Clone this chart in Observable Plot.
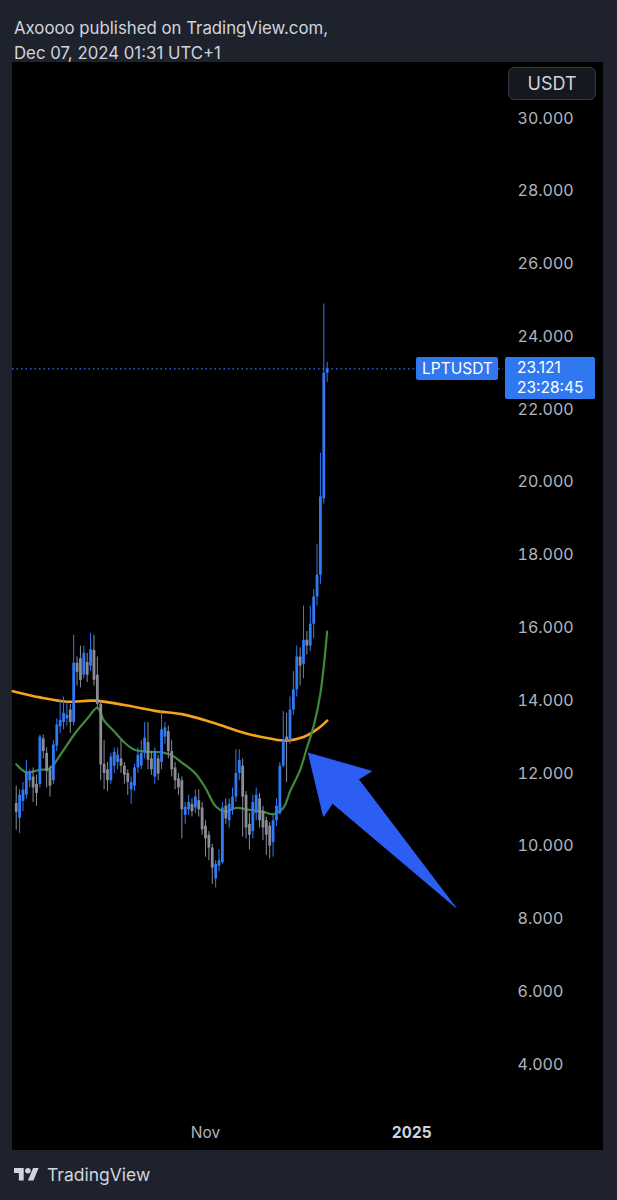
<!DOCTYPE html>
<html>
<head>
<meta charset="utf-8">
<script src="https://cdn.jsdelivr.net/npm/d3@7"></script>
<script src="https://cdn.jsdelivr.net/npm/@observablehq/plot@0.6"></script>
<style>
  html, body { margin: 0; padding: 0; background: #1e222d; }
  body { width: 617px; height: 1200px; position: relative; overflow: hidden; font-family: Inter, Roboto, sans-serif; }
  .hdr { position: absolute; left: 14px; top: 16px; color: #d1d4dc; font-size: 16.8px; line-height: 25px; }
  #chart { position: absolute; left: 12px; top: 62px; }
  .usdt { position: absolute; left: 508px; top: 67px; width: 88px; height: 33px; box-sizing: border-box;
          border: 1px solid #363a45; border-radius: 6px; background: #15181f; color: #d1d4dc;
          font-size: 18px; line-height: 31px; text-align: center; }
  .lbl { position: absolute; background: #2f78ef; color: #fff; font-size: 15.5px; box-sizing: border-box; border-radius: 2px; }
  .footer { position: absolute; left: 14px; top: 1164px; color: #d1d4dc; font-size: 17.5px; display: flex; align-items: center; }
  .footer svg { margin-right: 8px; }
</style>
</head>
<body>
<div class="hdr">Axoooo published on TradingView.com,<br>Dec 07, 2024 01:31 UTC+1</div>
<div id="chart"></div>
<div class="usdt">USDT</div>
<div class="footer"><svg width="25" height="20" viewBox="0 0 36 28"><path fill="#d1d4dc" d="M14 22H7V11H0V4h14v18zM28 22h-8l7.5-18h8L28 22z"/><circle fill="#d1d4dc" cx="20" cy="8" r="4"/></svg>TradingView</div>
<script>
// ---- Daily candles LPTUSDT, Sep 6 – Dec 7 2024 ----
const firstDay = "2024-09-06";
const lastDayExclusive = "2024-12-08";
const opens = [
 11.17,10.77,11.23,11.40,11.80,11.90,11.70,11.70,12.95,
 12.55,12.10,11.80,12.75,13.28,13.40,13.50,13.74,
 13.40,15.03,15.15,14.70,15.05,14.95,15.38,14.70,
 13.90,12.25,12.10,11.80,12.20,12.30,12.40,12.20,12.00,11.55,11.65,12.15,12.20,12.55,12.85,12.40,11.90,12.40,12.30,13.00,13.15,12.60,12.15,11.85,11.80,10.85,11.00,11.15,11.05,
 11.25,11.05,10.55,10.30,9.95,
 9.10,9.45,9.55,11.10,10.70,11.00,11.35,12.00,12.20,11.40,10.60,10.40,10.90,11.30,10.95,10.70,10.55,10.10,10.70,10.90,12.20,13.00,12.90,13.74,14.30,15.20,15.00,15.66,15.50,16.10,16.85,17.45,19.55,23.00
];
const highs = [
 11.65,11.55,11.75,12.36,12.10,12.15,11.95,13.05,13.05,
 12.70,12.20,12.90,13.50,14.00,14.10,13.95,13.90,
 15.80,15.20,15.50,15.50,15.30,15.85,15.80,15.20,
 14.00,12.90,12.30,12.55,12.70,12.70,12.90,12.30,12.10,11.90,12.25,12.70,12.90,13.40,13.40,12.60,12.70,12.50,13.70,13.40,13.30,12.90,12.30,12.00,11.90,11.20,11.40,11.30,11.55,
 11.55,11.20,10.70,10.40,10.05,
 9.60,9.90,11.20,11.30,11.30,11.60,12.65,12.65,12.40,11.50,10.90,11.40,11.60,11.45,11.10,10.80,10.65,10.85,11.30,12.30,13.70,13.65,14.10,14.80,15.50,15.45,16.60,15.90,16.60,17.05,18.30,20.80,24.90,23.30
];
const lows = [
 10.44,10.35,10.95,11.30,11.60,11.20,11.10,11.60,12.40,
 11.60,11.35,11.70,12.60,13.10,13.20,13.30,13.10,
 13.30,14.40,14.35,14.60,14.50,14.80,14.40,13.80,
 11.80,11.55,11.50,11.70,12.00,12.10,12.00,11.70,11.40,11.15,11.50,12.00,12.10,12.40,12.10,11.95,11.70,11.80,12.10,12.80,12.40,11.90,11.55,11.40,10.20,10.60,10.85,10.80,10.90,
 10.80,10.30,9.70,9.60,8.95,
 8.85,9.30,9.50,10.60,10.50,10.85,11.20,11.80,10.25,10.20,9.90,10.20,10.70,10.50,10.15,9.75,9.65,9.70,10.55,10.85,12.15,11.75,12.80,13.60,14.10,14.40,14.60,15.25,15.35,15.70,16.60,17.20,19.40,22.75
];
const closes = [
 10.93,11.40,11.54,12.03,12.05,11.60,11.45,13.00,12.60,
 12.05,11.65,12.78,13.33,13.46,13.65,13.60,13.40,
 15.03,14.78,14.56,15.30,14.70,15.40,14.56,13.90,
 12.23,12.00,11.80,12.45,12.58,12.50,12.20,11.95,11.75,11.75,12.15,12.50,12.55,12.97,12.36,12.10,12.60,11.98,13.20,13.25,12.60,12.10,11.80,11.60,11.00,11.07,11.20,10.95,11.35,
 11.00,10.45,10.20,9.95,9.40,
 9.50,9.60,11.05,10.75,11.15,11.35,12.00,12.36,11.35,10.50,10.30,11.20,11.40,10.70,10.50,10.30,10.00,10.70,11.10,12.20,12.90,12.85,13.74,14.30,15.20,14.95,15.66,15.50,16.10,16.85,17.45,19.60,23.00,23.121
];

// ---- Moving averages ----
const slowMaDates  = ["2024-09-05","2024-09-13","2024-09-21","2024-09-29","2024-10-08","2024-10-17","2024-10-25","2024-11-03","2024-11-13","2024-11-20","2024-11-25","2024-11-30","2024-12-03","2024-12-05","2024-12-07"];
const slowMaValues = [14.26,14.09,13.97,14.00,13.88,13.72,13.63,13.40,13.10,12.96,12.90,13.00,13.15,13.28,13.45];
const fastMaDates  = ["2024-09-06","2024-09-09","2024-09-13","2024-09-16","2024-09-19","2024-09-23","2024-09-27","2024-09-30","2024-10-02","2024-10-05","2024-10-08","2024-10-11","2024-10-15","2024-10-19","2024-10-22","2024-10-25","2024-10-29","2024-11-01","2024-11-04","2024-11-07","2024-11-10","2024-11-14","2024-11-18","2024-11-21","2024-11-24","2024-11-26","2024-11-29","2024-12-01","2024-12-03","2024-12-05","2024-12-07"];
const fastMaValues = [12.25,12.03,12.10,12.14,12.50,13.05,13.50,13.80,13.45,13.15,12.85,12.65,12.60,12.58,12.50,12.30,12.00,11.60,11.10,10.95,11.05,11.00,10.95,10.88,11.05,11.50,12.10,12.70,13.30,14.20,15.90];

// ---- Axis ticks ----
const yTicks = [4,6,8,10,12,14,16,18,20,22,24,26,28,30];
const xTickDates = ["2024-11-01","2025-01-01"];
const xTickLabels = ["Nov","2025"];

// ---- Annotation arrow (date, price) ----
const arrowDates  = ["2024-12-01T11:00Z","2024-12-20T02:00Z","2024-12-16T06:00Z","2025-01-14T00:00Z","2024-12-08T14:00Z","2024-12-05T22:00Z","2024-12-01T11:00Z"];
const arrowPrices = [12.555,12.06,11.84,8.32,11.18,10.82,12.555];

const symbol = "LPTUSDT";
const countdown = "23:28:45";

const dates = d3.utcDay.range(new Date(firstDay), new Date(lastDayExclusive));
const candles = dates.map((d, i) => ({date: d, open: opens[i], high: highs[i], low: lows[i], close: closes[i]}));
const slowMa = slowMaDates.map((d, i) => ({date: new Date(d), v: slowMaValues[i]}));
const fastMa = fastMaDates.map((d, i) => ({date: new Date(d), v: fastMaValues[i]}));
const arrow = arrowDates.map((d, i) => ({date: new Date(d), v: arrowPrices[i]}));
const lastClose = closes[closes.length - 1];

const UP = "#3179f5", DOWN = "#8a8d96";
const col = d => d.close >= d.open ? UP : DOWN;

const chart = Plot.plot({
  width: 591, height: 1088,
  marginLeft: 0, marginRight: 100, marginTop: 56, marginBottom: 86,
  style: {background: "#000", color: "#b2b5be", fontFamily: "Inter, Roboto, sans-serif", overflow: "visible"},
  x: {type: "utc", domain: [new Date("2024-09-04T21:36Z"), new Date("2025-01-28T04:00Z")], axis: null},
  y: {domain: [4, 30], axis: null},
  marks: [
    Plot.ruleY([lastClose], {stroke: UP, strokeWidth: 1.2, strokeDasharray: "1.5,3"}),
    Plot.line(slowMa, {x: "date", y: "v", stroke: "#f5a21f", strokeWidth: 2.6, curve: "catmull-rom"}),
    Plot.line(fastMa, {x: "date", y: "v", stroke: "#3f8a3f", strokeWidth: 2.2, curve: "catmull-rom"}),
    Plot.ruleX(candles, {x: "date", y1: "low", y2: "high", stroke: col, strokeWidth: 1}),
    Plot.ruleX(candles, {x: "date", y1: "open", y2: "close", stroke: col, strokeWidth: 2.8}),
    Plot.line(arrow, {x: "date", y: "v", fill: "#2c5ef4", stroke: "#2c5ef4", strokeWidth: 1, curve: "linear"}),
    Plot.axisY(yTicks, {anchor: "right", tickSize: 0, tickPadding: 14, tickFormat: d => d.toFixed(3), fontSize: 16, textAnchor: "start"}),
    Plot.axisX([new Date(xTickDates[0])], {anchor: "bottom", tickSize: 0, tickPadding: 62, tickFormat: () => xTickLabels[0], fontSize: 15.5}),
    Plot.axisX([new Date(xTickDates[1])], {anchor: "bottom", tickSize: 0, tickPadding: 62, tickFormat: () => xTickLabels[1], fontSize: 15.5, fontWeight: "bold", fill: "#d1d4dc"})
  ]
});
document.getElementById("chart").appendChild(chart);

// price labels placed with the chart's own y scale
const yPx = 62 + chart.scale("y").apply(lastClose);
const sym = document.createElement("div");
sym.className = "lbl";
Object.assign(sym.style, {left: "416px", top: (yPx - 11.5) + "px", width: "82px", height: "23px", lineHeight: "23px", paddingLeft: "6px"});
sym.textContent = symbol;
document.body.appendChild(sym);
const val = document.createElement("div");
val.className = "lbl";
Object.assign(val.style, {left: "505px", top: (yPx - 11) + "px", width: "90px", height: "42px", lineHeight: "20px", paddingLeft: "12px", paddingTop: "1px"});
val.innerHTML = lastClose.toFixed(3) + "<br>" + countdown;
document.body.appendChild(val);
</script>
</body>
</html>
